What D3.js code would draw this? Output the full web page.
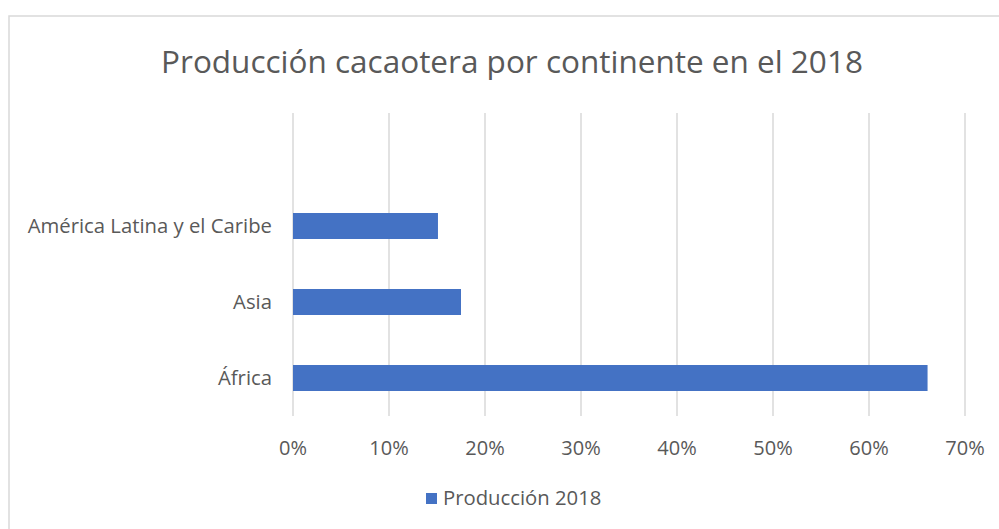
<!DOCTYPE html>
<html>
<head>
<meta charset="utf-8">
<script src="https://cdn.jsdelivr.net/npm/d3@7"></script>
<style>
  body { margin: 0; background: #fff; }
  text { font-family: "Open Sans", sans-serif; fill: #595959; }
</style>
</head>
<body>
<div id="chart"></div>
<script>
const categories = ["África", "Asia", "América Latina y el Caribe"];
const values = [0.661, 0.175, 0.151];
const ticks = [0, 0.1, 0.2, 0.3, 0.4, 0.5, 0.6, 0.7];
const seriesName = "Producción 2018";
const title = "Producción cacaotera por continente en el 2018";

const width = 999, height = 529;
const plotLeft = 293, plotRight = 965, plotTop = 113, plotBottom = 416;

const svg = d3.select("#chart")
  .append("svg")
  .attr("width", width)
  .attr("height", height);

// chart frame
svg.append("rect")
  .attr("x", 9).attr("y", 16)
  .attr("width", 1100).attr("height", 600)
  .attr("fill", "#fff")
  .attr("stroke", "#d9d9d9")
  .attr("stroke-width", 1.5);

const x = d3.scaleLinear()
  .domain([0, 0.7])
  .range([plotLeft, plotRight]);

// bands for the 3 categories, bottom to top (top slot left empty as in the original)
const y = d3.scaleBand()
  .domain(categories)
  .range([plotBottom, plotBottom - 3 * 76])
  .paddingInner(0.658)
  .paddingOuter(0.329);

svg.selectAll(".grid")
  .data(ticks)
  .join("line")
  .attr("class", "grid")
  .attr("x1", d => x(d)).attr("x2", d => x(d))
  .attr("y1", plotTop).attr("y2", plotBottom)
  .attr("stroke", "#d9d9d9")
  .attr("stroke-width", 1.5);

svg.selectAll(".bar")
  .data(values)
  .join("rect")
  .attr("class", "bar")
  .attr("x", x(0))
  .attr("y", (d, i) => y(categories[i]))
  .attr("width", d => x(d) - x(0))
  .attr("height", y.bandwidth())
  .attr("fill", "#4472c4");

svg.selectAll(".cat")
  .data(categories)
  .join("text")
  .attr("class", "cat")
  .attr("x", 272)
  .attr("y", d => y(d) + y.bandwidth() / 2)
  .attr("dy", "0.35em")
  .attr("text-anchor", "end")
  .style("font-size", "20.3px")
  .text(d => d);

svg.selectAll(".tick")
  .data(ticks)
  .join("text")
  .attr("class", "tick")
  .attr("x", d => x(d))
  .attr("y", 448)
  .attr("dy", "0.35em")
  .attr("text-anchor", "middle")
  .style("font-size", "20px")
  .text(d3.format(".0%"));

svg.append("text")
  .attr("x", 512)
  .attr("y", 62)
  .attr("dy", "0.35em")
  .attr("text-anchor", "middle")
  .style("font-size", "31.5px")
  .text(title);

// legend
svg.append("rect")
  .attr("x", 426).attr("y", 493)
  .attr("width", 11).attr("height", 11)
  .attr("fill", "#4472c4");

svg.append("text")
  .attr("x", 443)
  .attr("y", 498)
  .attr("dy", "0.35em")
  .style("font-size", "20.3px")
  .text(seriesName);
</script>
</body>
</html>
